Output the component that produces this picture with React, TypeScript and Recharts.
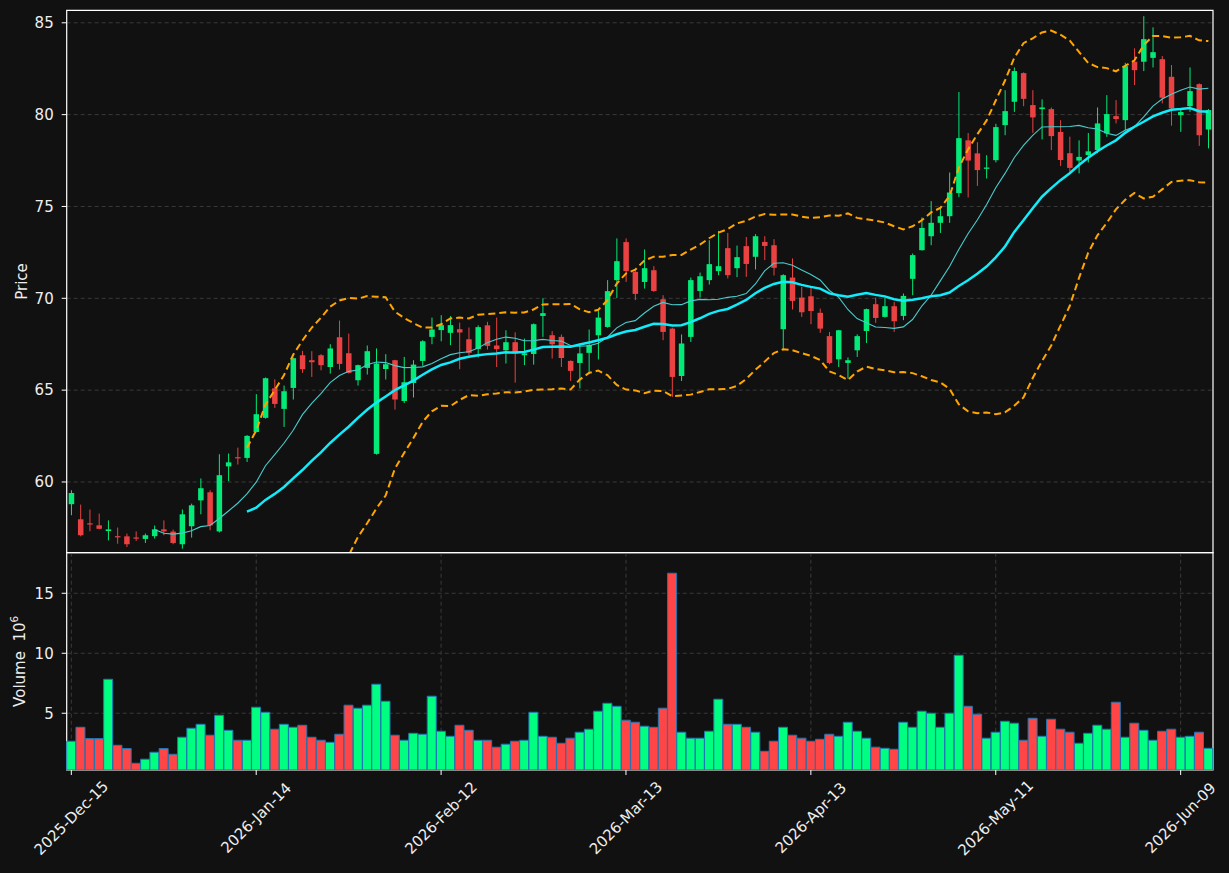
import { Bar, CartesianGrid, Cell, ComposedChart, Line, ReferenceArea, XAxis, YAxis } from "recharts";

// x tick labels, one every 20 sessions
const tickLabels = ["2025-Dec-15", "2026-Jan-14", "2026-Feb-12", "2026-Mar-13", "2026-Apr-13", "2026-May-11", "2026-Jun-09"];
const priceTicks = [60, 65, 70, 75, 80, 85];
const volumeTicks = [5, 10, 15];

const opens = [
  58.79, 57.97, 57.75, 57.64, 57.33, 57.05, 57.04, 56.98, 56.9, 57.05,
  57.42, 57.3, 56.61, 57.59, 59.0, 59.44, 57.31, 60.85, 61.35, 61.31,
  62.72, 63.49, 65.1, 63.98, 65.12, 66.9, 66.63, 66.9, 66.26, 67.88,
  67.01, 65.54, 66.21, 61.53, 66.15, 66.63, 64.41, 65.39, 66.59, 67.9,
  68.27, 68.12, 68.32, 67.77, 67.24, 68.53, 67.43, 67.17, 67.61, 66.9,
  66.97, 69.04, 67.99, 67.9, 66.59, 66.48, 67.03, 67.99, 68.44, 70.99,
  73.06, 71.44, 70.89, 71.53, 69.95, 68.35, 65.77, 67.9, 70.4, 70.99,
  71.48, 72.73, 71.64, 72.84, 72.26, 73.07, 72.89, 68.32, 71.13, 70.04,
  70.11, 69.21, 67.94, 66.68, 66.48, 67.17, 68.22, 69.68, 68.99, 69.57,
  69.04, 71.06, 72.62, 73.38, 74.11, 74.47, 75.73, 78.6, 77.89, 77.05,
  77.52, 79.43, 80.7, 82.26, 80.52, 80.3, 80.3, 79.06, 77.9, 77.5,
  77.8, 78.07, 78.98, 79.92, 79.7, 82.88, 82.88, 83.09, 83.02, 82.06,
  79.97, 80.46, 81.66, 79.19,
];
const highs = [
  59.55, 58.77, 58.5, 58.28, 57.91, 57.52, 57.19, 57.31, 57.19, 57.63,
  57.91, 57.41, 58.5, 58.82, 60.19, 59.55, 61.51, 61.55, 61.87, 62.55,
  64.78, 65.69, 65.59, 65.25, 66.77, 67.14, 67.12, 66.96, 67.5, 68.79,
  68.08, 66.39, 67.43, 67.27, 66.96, 66.65, 66.81, 66.63, 67.72, 68.95,
  69.08, 69.03, 68.68, 68.41, 68.53, 68.72, 68.95, 68.26, 68.15, 67.81,
  68.63, 70.0, 68.21, 68.03, 66.62, 67.54, 68.3, 69.35, 70.99, 73.26,
  73.26, 71.57, 72.66, 71.75, 70.17, 68.4, 68.03, 71.13, 71.4, 73.16,
  73.67, 73.56, 72.87, 73.34, 73.49, 73.38, 73.22, 71.31, 72.17, 70.62,
  70.57, 69.44, 68.17, 68.28, 66.78, 68.04, 69.44, 70.04, 70.04, 69.8,
  70.26, 72.44, 74.4, 75.29, 74.89, 76.85, 81.23, 79.0, 78.5, 77.79,
  79.5, 81.33, 82.57, 82.3, 81.33, 80.83, 80.39, 79.7, 78.8, 78.6,
  79.0, 80.39, 81.06, 80.79, 82.82, 83.61, 85.36, 84.75, 83.19, 82.7,
  80.25, 82.57, 81.7, 80.3,
];
const lows = [
  58.19, 57.04, 57.32, 57.42, 56.82, 56.64, 56.46, 56.79, 56.68, 56.92,
  57.1, 56.61, 56.37, 56.97, 58.24, 57.37, 57.25, 60.05, 60.95, 61.09,
  62.7, 63.45, 64.03, 63.0, 64.49, 65.94, 65.72, 66.08, 65.9, 66.12,
  65.9, 65.25, 65.85, 61.49, 65.58, 63.94, 64.3, 64.6, 66.32, 67.5,
  67.66, 67.45, 66.14, 66.9, 66.78, 67.21, 66.26, 66.45, 65.41, 66.36,
  66.39, 67.9, 66.72, 66.26, 65.5, 65.09, 65.87, 66.67, 68.4, 70.02,
  70.89, 69.9, 70.53, 70.35, 67.72, 64.63, 65.5, 67.62, 70.04, 70.75,
  71.26, 71.08, 71.15, 71.17, 71.57, 72.08, 71.24, 67.17, 69.39, 68.99,
  68.59, 68.12, 66.41, 66.26, 65.63, 66.81, 67.57, 68.66, 68.95, 68.17,
  68.81, 70.17, 72.6, 72.89, 73.56, 74.11, 75.51, 75.49, 76.12, 76.52,
  77.4, 78.88, 80.15, 80.46, 79.01, 78.65, 78.07, 77.2, 76.9, 76.8,
  77.4, 77.9, 78.79, 79.52, 79.16, 81.61, 82.37, 82.57, 80.61, 79.4,
  79.06, 80.15, 78.3, 78.16,
];
const closes = [
  59.4, 57.1, 57.7, 57.45, 57.42, 56.99, 56.61, 56.95, 57.1, 57.42,
  57.31, 56.68, 58.24, 58.73, 59.66, 57.64, 60.37, 61.07, 61.3, 62.51,
  63.69, 65.65, 64.25, 64.94, 66.74, 66.14, 66.52, 66.36, 67.27, 66.43,
  65.94, 66.36, 67.12, 66.45, 66.41, 64.49, 65.43, 66.39, 67.66, 68.3,
  68.54, 68.54, 68.14, 67.03, 68.43, 67.41, 67.23, 67.61, 67.0, 67.0,
  68.59, 69.19, 67.5, 66.75, 66.05, 67.0, 67.46, 68.95, 70.39, 72.02,
  71.48, 70.24, 71.64, 70.4, 68.17, 65.72, 67.54, 70.99, 71.2, 71.86,
  71.75, 71.26, 72.24, 71.87, 73.38, 72.85, 71.66, 71.26, 69.86, 69.24,
  69.31, 68.35, 66.48, 68.26, 66.63, 67.94, 69.41, 68.93, 69.57, 68.75,
  70.13, 72.35, 73.83, 74.11, 74.47, 75.76, 78.72, 77.5, 76.98, 77.12,
  79.32, 80.19, 82.37, 80.86, 79.85, 80.39, 78.83, 77.53, 77.1, 77.7,
  78.0, 79.52, 80.03, 79.76, 82.64, 82.42, 84.11, 83.4, 80.92, 80.34,
  80.14, 81.28, 78.88, 80.25,
];
// volume in millions
const volumes = [
  2.67, 3.83, 2.89, 2.89, 7.83, 2.33, 2.06, 0.83, 1.17, 1.75,
  2.06, 1.58, 3.0, 3.75, 4.08, 3.17, 4.83, 3.58, 2.75, 2.75,
  5.5, 5.08, 3.67, 4.08, 3.83, 4.0, 3.0, 2.75, 2.58, 3.25,
  5.67, 5.42, 5.67, 7.42, 6.0, 3.17, 2.75, 3.33, 3.25, 6.42,
  3.5, 3.08, 4.0, 3.58, 2.75, 2.75, 2.17, 2.42, 2.67, 2.75,
  5.08, 3.08, 3.0, 2.5, 2.92, 3.42, 3.67, 5.17, 5.83, 5.58,
  4.42, 4.25, 3.92, 3.83, 5.42, 16.67, 3.42, 2.92, 2.92, 3.5,
  6.17, 4.08, 4.08, 3.83, 3.42, 1.83, 2.67, 3.83, 3.17, 2.92,
  2.67, 2.83, 3.25, 3.08, 4.25, 3.5, 2.92, 2.17, 2.08, 2.0,
  4.25, 3.83, 5.17, 5.0, 3.83, 5.0, 9.83, 5.58, 4.92, 2.92,
  3.42, 4.33, 4.17, 2.75, 4.58, 3.08, 4.5, 3.67, 3.42, 2.5,
  3.33, 4.0, 3.67, 5.92, 3.0, 4.17, 3.58, 2.75, 3.5, 3.67,
  3.0, 3.08, 3.42, 2.08,
];

const BG = "#111111";
const TEXT = "#eeeeee";
const GRID = "#3a3a3a";
const UP = "#03ea78";
const DOWN = "#ea4242";
const VOL_UP = "#00ff80";
const VOL_DOWN = "#ff4545";
const FONT = "DejaVu Sans";

const PRICE_MIN = 56.15;
const PRICE_MAX = 85.68;
const VOL_MIN = 0.27;
const VOL_MAX = 18.38;

const mean = (w: number[]) => w.reduce((a, b) => a + b, 0) / w.length;
const win = (i: number, n: number) => (i < n - 1 ? null : closes.slice(i - n + 1, i + 1));

const rows = closes.map((close, i) => {
  const w10 = win(i, 10);
  const w20 = win(i, 20);
  const ma20 = w20 ? mean(w20) : null;
  const sd = w20 && ma20 !== null
    ? Math.sqrt(w20.reduce((a, v) => a + (v - ma20) ** 2, 0) / (w20.length - 1))
    : null;
  return {
    i,
    open: opens[i],
    high: highs[i],
    low: lows[i],
    close,
    volume: volumes[i],
    ma10: w10 ? mean(w10) : null,
    ma20,
    bbUp: ma20 !== null && sd !== null ? ma20 + 2 * sd : null,
    bbLo: ma20 !== null && sd !== null ? ma20 - 2 * sd : null,
  };
});
const firstIdx = rows[0].i;
const lastIdx = rows[rows.length - 1].i;

function Candle(props: any) {
  const { x, y, width, height, payload } = props;
  const { open, close, high, low } = payload;
  const color = close >= open ? UP : DOWN;
  const span = high - low || 1;
  const py = (v: number) => y + ((high - v) / span) * height;
  const top = py(Math.max(open, close));
  const bot = py(Math.min(open, close));
  const cx = x + width / 2;
  return (
    <g>
      <line x1={cx} x2={cx} y1={y} y2={y + height} stroke={color} strokeWidth={1} />
      <rect x={x} y={top} width={width} height={Math.max(bot - top, 1.2)} fill={color} />
    </g>
  );
}

function DateTick(props: any) {
  const { x, y, payload } = props;
  const label = tickLabels[Math.round(payload.value / 20)];
  const cy = y + 41;
  return (
    <text x={x} y={cy} textAnchor="middle" dominantBaseline="central"
      transform={`rotate(-45 ${x} ${cy})`} fill={TEXT} fontSize={15} fontFamily={FONT}>
      {label}
    </text>
  );
}

function PriceLabel(props: any) {
  const vb = props.viewBox;
  const cx = vb.x + 22;
  const cy = vb.y + vb.height / 2;
  return (
    <text x={cx} y={cy} textAnchor="middle" dominantBaseline="central"
      transform={`rotate(-90 ${cx} ${cy})`} fill={TEXT} fontSize={15} fontFamily={FONT}>
      Price
    </text>
  );
}

function VolumeLabel(props: any) {
  const vb = props.viewBox;
  const cx = vb.x + 20;
  const cy = vb.y + vb.height / 2;
  return (
    <text x={cx} y={cy} textAnchor="middle" dominantBaseline="central"
      transform={`rotate(-90 ${cx} ${cy})`} fill={TEXT} fontSize={15} fontFamily={FONT}>
      {"Volume\u00a0\u00a010"}
      <tspan dy={-6} fontSize={10.5}>6</tspan>
    </text>
  );
}

const tickStyle = { fill: TEXT, fontSize: 15, fontFamily: FONT };

export default function App() {
  return (
    <div style={{ position: "absolute", left: 0, top: 0, width: 1229, height: 873, background: BG, overflow: "hidden" }}>
      <div style={{ position: "absolute", left: 0, top: 0 }}>
        <ComposedChart width={1229} height={560} data={rows} margin={{ top: 10.3, right: 16, bottom: 7.3, left: 0 }}>
          <CartesianGrid stroke={GRID} strokeDasharray="4 3" syncWithTicks />
          <XAxis dataKey="i" interval={19} tick={false} tickLine={false} axisLine={false} height={0} />
          <YAxis domain={[PRICE_MIN, PRICE_MAX]} ticks={priceTicks} allowDataOverflow width={66.7}
            tickSize={5} tickMargin={8} stroke="#fff" axisLine={false} tick={tickStyle} label={{ content: PriceLabel }} />
          <Bar dataKey={(d: any) => [d.low, d.high]} barSize={5.5} shape={Candle} isAnimationActive={false} />
          <Line dataKey="ma10" stroke="#48cccc" strokeWidth={1.1} dot={false} isAnimationActive={false} />
          <Line dataKey="ma20" stroke="#12ecfa" strokeWidth={2.5} dot={false} isAnimationActive={false} />
          <Line dataKey="bbUp" stroke="#ffa500" strokeWidth={2} strokeDasharray="7 4" dot={false} isAnimationActive={false} />
          <Line dataKey="bbLo" stroke="#ffa500" strokeWidth={2} strokeDasharray="7 4" dot={false} isAnimationActive={false} />
          <ReferenceArea x1={firstIdx} x2={lastIdx} y1={PRICE_MIN} y2={PRICE_MAX}
            fill="none" stroke="#fff" strokeWidth={1.2} fillOpacity={0} />
        </ComposedChart>
      </div>
      <div style={{ position: "absolute", left: 0, top: 540 }}>
        <ComposedChart width={1229} height={333} data={rows} barCategoryGap={0}
          margin={{ top: 12.7, right: 16, bottom: 0, left: 0 }}>
          <CartesianGrid stroke={GRID} strokeDasharray="4 3" syncWithTicks />
          <XAxis dataKey="i" interval={19} height={103} tickSize={5} tick={<DateTick />}
            axisLine={false} tickLine={{ stroke: "#fff" }} />
          <YAxis domain={[VOL_MIN, VOL_MAX]} ticks={volumeTicks} allowDataOverflow width={66.7}
            tickSize={5} tickMargin={8} stroke="#fff" axisLine={false} tick={tickStyle} label={{ content: VolumeLabel }} />
          <Bar dataKey="volume" stroke="#1f77b4" strokeWidth={1} isAnimationActive={false}>
            {rows.map((r) => (
              <Cell key={r.i} fill={r.close >= r.open ? VOL_UP : VOL_DOWN} />
            ))}
          </Bar>
          <ReferenceArea x1={firstIdx} x2={lastIdx} y1={VOL_MIN} y2={VOL_MAX}
            fill="none" stroke="#fff" strokeWidth={1.2} fillOpacity={0} />
        </ComposedChart>
      </div>
    </div>
  );
}
